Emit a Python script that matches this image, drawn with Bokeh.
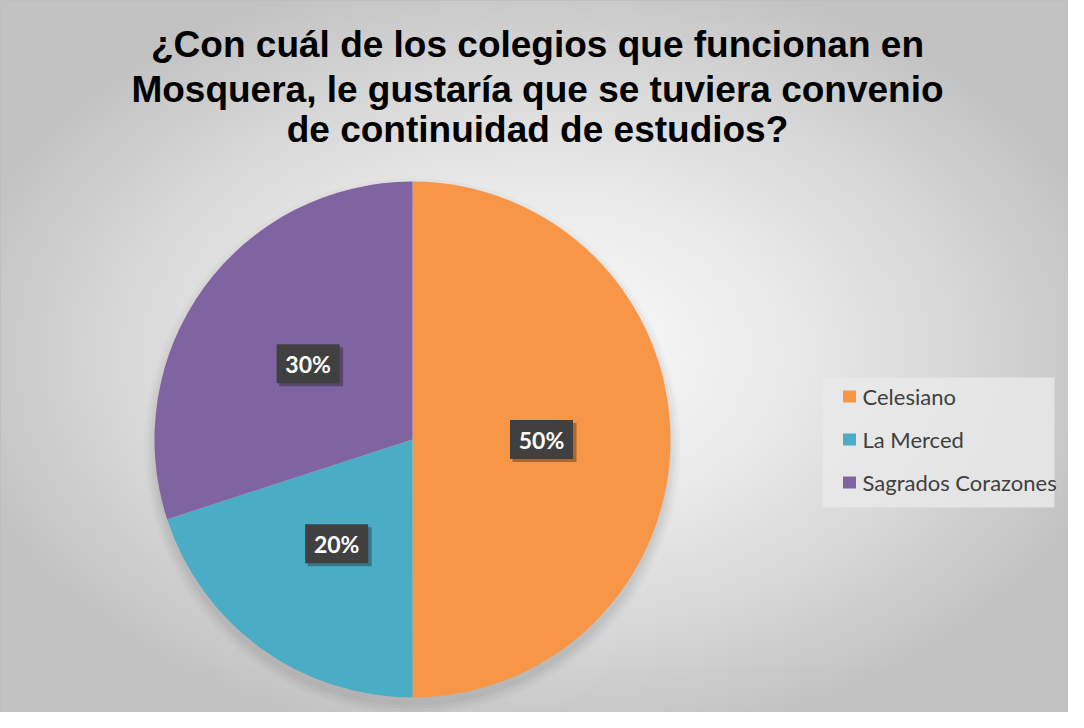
import numpy as np
from bokeh.plotting import figure
from bokeh.models import ColumnDataSource, Range1d
from bokeh.core.properties import value
from bokeh.embed import file_html
from bokeh.resources import INLINE

# ---- data ----
categories = ["Celesiano", "La Merced", "Sagrados Corazones"]
shares = [50, 20, 30]
colors = ["#F79646", "#4BACC6", "#8064A2"]
title_lines = ["¿Con cuál de los colegios que funcionan en",
               "Mosquera, le gustaría que se tuviera convenio",
               "de continuidad de estudios?"]

W, H = 1068, 712
p = figure(width=W, height=H, output_backend="svg", toolbar_location=None,
           x_range=Range1d(0, W), y_range=Range1d(0, H),
           min_border=0, match_aspect=False)
p.axis.visible = False
p.grid.visible = False
p.outline_line_color = "#bdbdbd"
p.background_fill_color = "#d9d9d9"
p.border_fill_color = "white"

# background radial gradient
ny, nx = 120, 180
yy, xx = np.mgrid[0:ny, 0:nx]
cx, cy = nx * 0.5, ny * 0.5
d = np.sqrt(((xx - cx) / (nx * 0.6)) ** 2 + ((yy - cy) / (ny * 0.6)) ** 2)
shade = np.clip(250 - 62 * d ** 1.4, 194, 255).astype(np.uint32)
img = (255 << 24) | (shade << 16) | (shade << 8) | shade
p.image_rgba(image=[img.astype(np.uint32)], x=0, y=0, dw=W, dh=H)

# pie geometry
pcx, pcy, R = 412, 273, 258
fr = np.array(shares, dtype=float) / sum(shares)
start = np.pi / 2 - 2 * np.pi * np.concatenate([[0], np.cumsum(fr)[:-1]])
end = start - 2 * np.pi * fr
mid = (start + end) / 2

# soft shadow (below the pie)
for dr, a in [(10, 0.03), (7, 0.04), (4, 0.05), (1, 0.06)]:
    p.circle(x=[pcx], y=[pcy - 7], radius=R + dr, fill_color="#505050",
             fill_alpha=a, line_color=None)

src = ColumnDataSource(dict(cat=categories, start=start, end=end, color=colors,
                            lx=pcx + 0.5 * R * np.cos(mid), ly=pcy + 0.5 * R * np.sin(mid),
                            lbl=[f"{s}%" for s in shares]))
p.wedge(x=pcx, y=pcy, radius=R, start_angle="start", end_angle="end",
        direction="clock", fill_color="color", line_color=None, source=src)

# data labels
shadow = ColumnDataSource(dict(x=src.data["lx"] + 3, y=src.data["ly"] - 3))
p.rect(x="x", y="y", width=64, height=39, width_units="screen", height_units="screen",
       fill_color="black", fill_alpha=0.3, line_color=None, source=shadow)
p.rect(x="lx", y="ly", width=63, height=39, width_units="screen", height_units="screen",
       fill_color="#404040", line_color=None, source=src)
p.text(x="lx", y="ly", text="lbl", text_align="center", text_baseline="middle",
       text_font=value("Lato"), text_font_style="bold", text_font_size="23px",
       text_color="white", source=src)

# title
tsrc = ColumnDataSource(dict(x=[537] * 3, y=[H - 44, H - 89, H - 129], t=title_lines))
p.text(x="x", y="y", text="t", text_align="center", text_baseline="middle",
       text_font=value("Liberation Sans"), text_font_style="bold",
       text_font_size="37px", text_color="black", source=tsrc)

# legend (drawn manually)
lx0, lx1, ly0, ly1 = 822, 1054, 205, 335
p.quad(left=[lx0], right=[lx1], bottom=[ly0], top=[ly1], fill_color="#e9e9e9",
       fill_alpha=0.85, line_color=None)
ly_rows = [316, 273, 230]
lsrc = ColumnDataSource(dict(x=[849] * 3, tx=[862] * 3, y=ly_rows, c=colors, t=categories))
p.rect(x="x", y="y", width=13, height=12, width_units="screen", height_units="screen",
       fill_color="c", line_color=None, source=lsrc)
p.text(x="tx", y="y", text="t", text_align="left", text_baseline="middle",
       text_font=value("Lato"), text_font_size="22px", text_color="#404040", source=lsrc)

open("out.html", "w").write(file_html(p, INLINE))
